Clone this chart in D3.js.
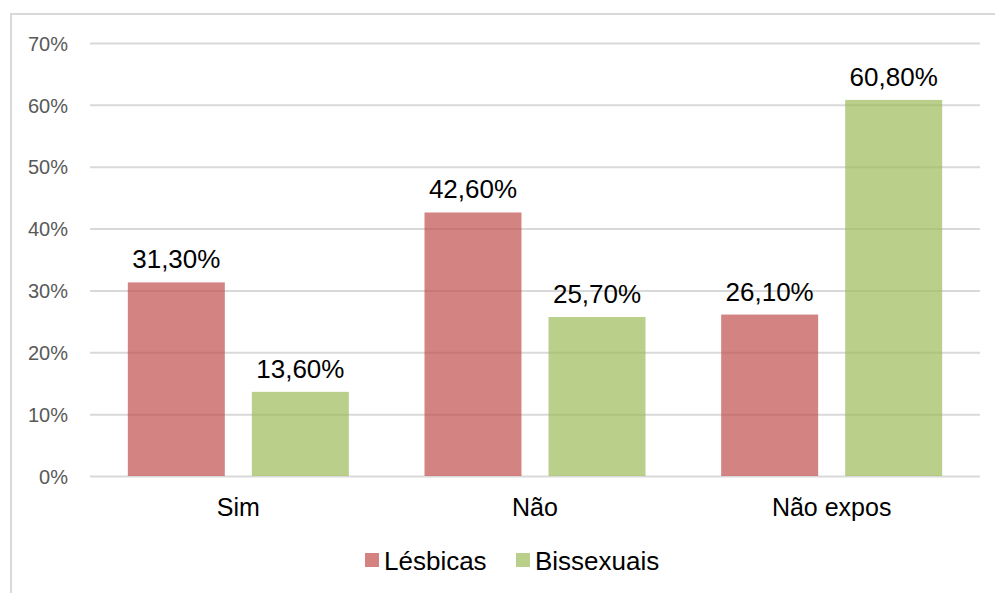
<html>
<head>
<meta charset="utf-8">
<title>Lésbicas x Bissexuais</title>
<script src="https://d3js.org/d3.v7.min.js"></script>
<style>
  body { margin: 0; background: #fff; }
  svg { display: block; font-family: "Liberation Sans", Arial, sans-serif; }
</style>
</head>
<body>
<svg width="995" height="593"></svg>
<script>
var categories = ["Sim", "Não", "Não expos"];
var seriesNames = ["Lésbicas", "Bissexuais"];
var lesbicas = [31.3, 42.6, 26.1];
var bissexuais = [13.6, 25.7, 60.8];
var yTicks = [0, 10, 20, 30, 40, 50, 60, 70];
var colors = ["#c0504d", "#9bbb59"];

var svg = d3.select("svg");

// chart frame
svg.append("rect")
    .attr("x", 11).attr("y", 14)
    .attr("width", 1000).attr("height", 700)
    .attr("fill", "none")
    .attr("stroke", "#d9d9d9")
    .attr("stroke-width", 2);

var plotL = 90, plotR = 980, plotT = 43, plotB = 476;

var x0 = d3.scaleBand()
    .domain(categories)
    .range([plotL, plotR]);

var x1 = d3.scaleBand()
    .domain(seriesNames)
    .range([0, x0.bandwidth()])
    .paddingInner(0.218)
    .paddingOuter(0.305);

var y = d3.scaleLinear().domain([0, 70]).range([plotB, plotT]);

// gridlines + y labels
var yAxis = svg.append("g")
    .attr("transform", "translate(" + plotL + ",0)")
    .call(d3.axisLeft(y).tickValues(yTicks)
        .tickSize(-(plotR - plotL))
        .tickPadding(22)
        .tickFormat(function(d) { return d + "%"; }));
yAxis.select(".domain").remove();
yAxis.selectAll(".tick line").attr("stroke", "#d9d9d9").attr("stroke-width", 2);
yAxis.selectAll(".tick text")
    .attr("fill", "#595959")
    .attr("dy", "0.36em")
    .style("font-size", "20px")
    .style("font-family", "Liberation Sans, Arial, sans-serif");

var rows = categories.map(function(c, i) {
    return { cat: c, vals: [lesbicas[i], bissexuais[i]] };
});

var groups = svg.selectAll(".grp")
    .data(rows)
    .enter().append("g")
    .attr("class", "grp")
    .attr("transform", function(d) { return "translate(" + x0(d.cat) + ",0)"; });

groups.selectAll("rect")
    .data(function(d) { return d.vals.map(function(v, j) { return { s: seriesNames[j], v: v, j: j }; }); })
    .enter().append("rect")
    .attr("x", function(d) { return x1(d.s); })
    .attr("y", function(d) { return y(d.v); })
    .attr("width", x1.bandwidth())
    .attr("height", function(d) { return y(0) - y(d.v); })
    .attr("fill", function(d) { return colors[d.j]; })
    .attr("fill-opacity", 0.7);

groups.selectAll("text.val")
    .data(function(d) { return d.vals.map(function(v, j) { return { s: seriesNames[j], v: v }; }); })
    .enter().append("text")
    .attr("class", "val")
    .attr("x", function(d) { return x1(d.s) + x1.bandwidth() / 2; })
    .attr("y", function(d) { return y(d.v) - 14; })
    .attr("text-anchor", "middle")
    .attr("fill", "#000")
    .style("font-size", "26px")
    .text(function(d) { return d.v.toFixed(2).replace(".", ",") + "%"; });

// category labels
var xAxis = svg.append("g")
    .attr("transform", "translate(0," + plotB + ")")
    .call(d3.axisBottom(x0).tickSize(0).tickPadding(0));
xAxis.select(".domain").remove();
xAxis.selectAll(".tick text")
    .attr("fill", "#000")
    .attr("dy", null)
    .attr("y", 40)
    .style("font-size", "25px")
    .style("font-family", "Liberation Sans, Arial, sans-serif");

// legend
var legendX = [365, 516];
var legend = svg.selectAll(".leg")
    .data(seriesNames)
    .enter().append("g")
    .attr("class", "leg")
    .attr("transform", function(d, i) { return "translate(" + legendX[i] + ",553)"; });
legend.append("rect")
    .attr("width", 14).attr("height", 14)
    .attr("fill", function(d, i) { return colors[i]; })
    .attr("fill-opacity", 0.7);
legend.append("text")
    .attr("x", 19).attr("y", 17)
    .attr("fill", "#000")
    .style("font-size", "26px")
    .text(function(d) { return d; });
</script>
</body>
</html>
